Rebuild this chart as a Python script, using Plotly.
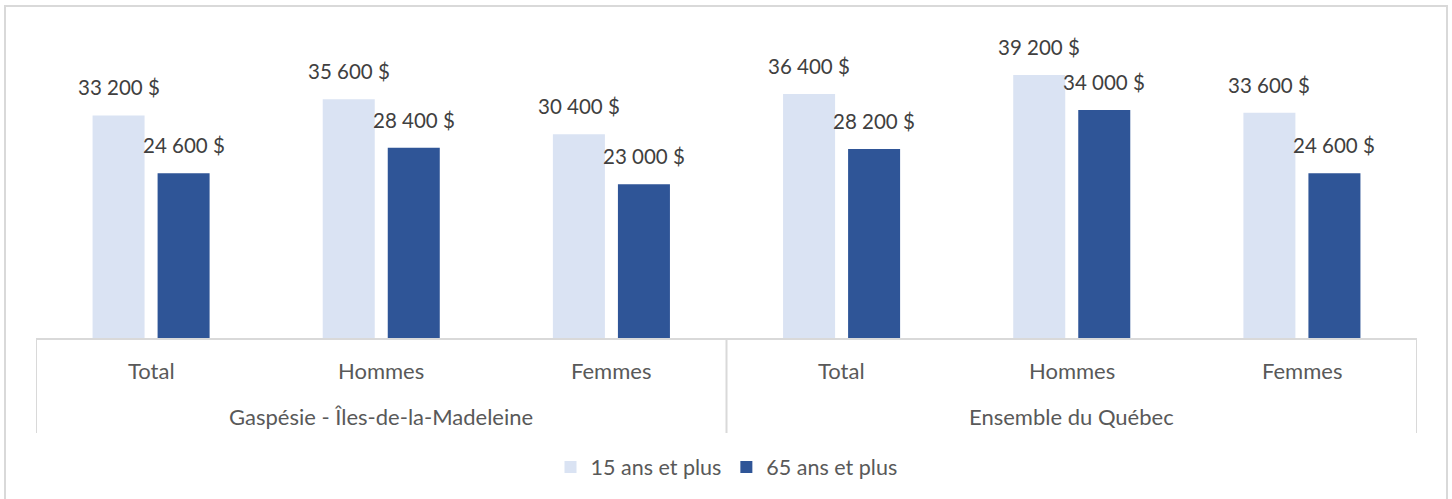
import plotly.graph_objects as go

groups = ["Gaspésie - Îles-de-la-Madeleine", "Ensemble du Québec"]
categories = ["Total", "Hommes", "Femmes"]
series_names = ["15 ans et plus", "65 ans et plus"]
values_15 = [33200, 35600, 30400, 36400, 39200, 33600]
values_65 = [24600, 28400, 23000, 28200, 34000, 24600]

colors = ["#DAE3F3", "#2F5597"]
FONT = "Lato"

W, H = 1452, 499
L, R, T, B = 36, 35, 36, 160
plot_h = H - T - B

def py(pix):
    return (H - B - pix) / plot_h

def px(pix):
    return (pix - L) / (W - L - R)

n = len(groups) * len(categories)
xs = list(range(n))
cat_labels = [c for g in groups for c in categories]

def fmt(v):
    return f"{v:,}".replace(",", " ") + " $"

fig = go.Figure()
for name, vals, col in zip(series_names, [values_15, values_65], colors):
    fig.add_trace(go.Bar(x=xs, y=vals, name=name, marker=dict(color=col, line=dict(width=0)),
                         hoverinfo="skip"))

annotations = []
offset = 32.5
for vals, sh in [(values_15, -offset), (values_65, offset)]:
    for i, v in enumerate(vals):
        annotations.append(dict(x=i, y=v, xref="x", yref="y", text=fmt(v), showarrow=False,
                                xshift=sh, yshift=28, yanchor="middle",
                                font=dict(family=FONT, size=20.5, color="#404040")))
for i, c in enumerate(cat_labels):
    annotations.append(dict(x=i, y=py(370), xref="x", yref="paper", text=c, showarrow=False,
                            yanchor="middle", font=dict(family=FONT, size=22, color="#595959")))
for gi, g in enumerate(groups):
    center = gi * len(categories) + (len(categories) - 1) / 2
    annotations.append(dict(x=center, y=py(416), xref="x", yref="paper", text=g, showarrow=False,
                            yanchor="middle", font=dict(family=FONT, size=22, color="#595959")))

shapes = []
grid = "#D9D9D9"
# outer chart border
shapes.append(dict(type="rect", xref="paper", yref="paper", x0=px(5), x1=px(1447), y0=py(520), y1=py(6),
                   line=dict(color=grid, width=2), fillcolor="rgba(0,0,0,0)", layer="below"))
# baseline
shapes.append(dict(type="line", xref="paper", yref="paper", x0=0, x1=1, y0=0, y1=0,
                   line=dict(color=grid, width=2)))
# group dividers
for k in range(len(groups) + 1):
    xv = k * len(categories) - 0.5
    shapes.append(dict(type="line", xref="x", yref="paper", x0=xv, x1=xv, y0=0, y1=py(433),
                       line=dict(color=grid, width=2)))

fig.update_layout(
    width=W, height=H,
    margin=dict(l=L, r=R, t=T, b=B),
    paper_bgcolor="white", plot_bgcolor="white",
    barmode="group", bargap=0.435, bargroupgap=0.2,
    xaxis=dict(range=[-0.5, n - 0.5], showticklabels=False, showgrid=False, zeroline=False,
               showline=False, ticks=""),
    yaxis=dict(range=[0, 45000], visible=False, showgrid=False, zeroline=False),
    showlegend=True,
    legend=dict(orientation="h", x=0.5, xanchor="center", y=py(467), yanchor="middle",
                font=dict(family=FONT, size=21.5, color="#595959"), itemwidth=30,
                bgcolor="rgba(0,0,0,0)"),
    annotations=annotations,
    shapes=shapes,
)

fig.write_html("out.html", config={"displayModeBar": False},
               post_script="document.body.style.margin='0';")
